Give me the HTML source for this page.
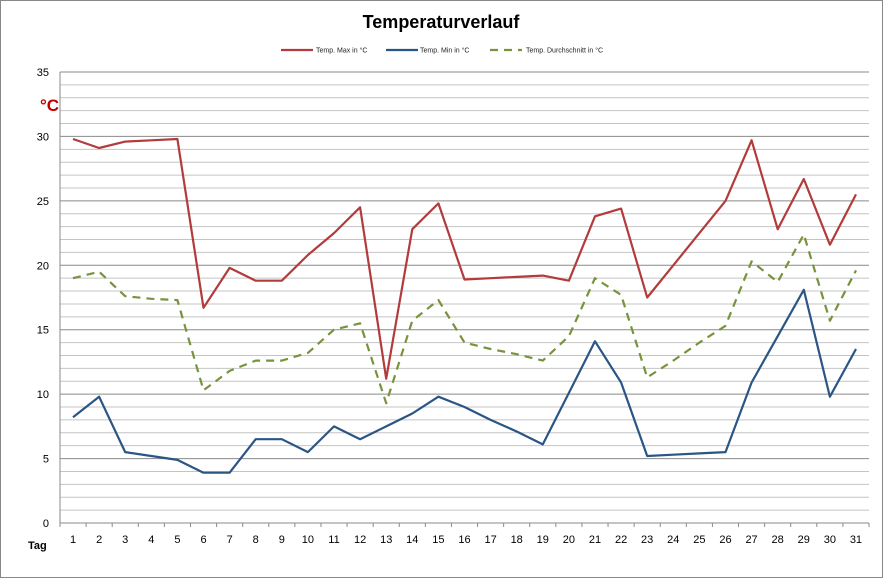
<!DOCTYPE html>
<html><head><meta charset="utf-8"><style>
body{margin:0;background:#fff}
svg{display:block;font-family:"Liberation Sans",Calibri,sans-serif}
</style></head><body>
<svg id="c" width="883" height="578" xmlns="http://www.w3.org/2000/svg">
<rect x="0.5" y="0.5" width="882" height="577" fill="#fff" stroke="#888"/>
<text x="441" y="28" text-anchor="middle" font-size="18" font-weight="bold" fill="#000">Temperaturverlauf</text>
<g font-size="7" fill="#222">
<line x1="281" y1="50" x2="313" y2="50" stroke="#b23b3b" stroke-width="2.2"/>
<text x="316" y="52.5">Temp. Max in °C</text>
<line x1="386" y1="50" x2="418" y2="50" stroke="#2b5584" stroke-width="2.2"/>
<text x="420" y="52.5">Temp. Min in °C</text>
<line x1="490" y1="50" x2="522" y2="50" stroke="#77933c" stroke-width="2.2" stroke-dasharray="8,6"/>
<text x="526" y="52.5">Temp. Durchschnitt in °C</text>
</g>
<text x="40" y="111" font-size="17" font-weight="bold" fill="#c00000">°C</text>
<g id="g"></g>
<text x="28" y="549" font-size="11" font-weight="bold" fill="#000">Tag</text>
</svg>
<script>
const g=document.getElementById('g');const NS='http://www.w3.org/2000/svg';
const y0=523,u=451/35,x0=60,dx=809/31;
let h='';
for(let i=0;i<=35;i++){const y=y0-i*u;const major=i%5==0;
h+=`<line x1="${x0}" x2="869" y1="${y}" y2="${y}" stroke="${major?'#8a8a8a':'#c4c4c4'}" stroke-width="1"/>`;
if(major)h+=`<text x="49" y="${y+4}" font-size="11" text-anchor="end" fill="#000">${i}</text>`;}
h+=`<line x1="${x0}" x2="${x0}" y1="72" y2="${y0+4}" stroke="#8a8a8a"/>`;
for(let i=0;i<=31;i++){const x=x0+i*dx;h+=`<line x1="${x}" x2="${x}" y1="${y0}" y2="${y0+4}" stroke="#8a8a8a"/>`;}
for(let i=1;i<=31;i++){h+=`<text x="${x0+(i-0.5)*dx}" y="543" font-size="11" text-anchor="middle" fill="#000">${i}</text>`;}
const mx=[29.8,29.1,29.6,29.7,29.8,16.7,19.8,18.8,18.8,20.8,22.5,24.5,11.2,22.8,24.8,18.9,19.0,19.1,19.2,18.8,23.8,24.4,17.5,20.0,22.5,25.0,29.7,22.8,26.7,21.6,25.5];
const mn=[8.2,9.8,5.5,5.2,4.9,3.9,3.9,6.5,6.5,5.5,7.5,6.5,7.5,8.5,9.8,9.0,8.0,7.1,6.1,10.1,14.1,10.9,5.2,5.3,5.4,5.5,10.9,14.5,18.1,9.8,13.5];
const av=[19.0,19.5,17.6,17.4,17.3,10.3,11.8,12.6,12.6,13.2,15.0,15.5,9.3,15.7,17.3,14.0,13.5,13.1,12.6,14.5,19.0,17.7,11.3,12.6,14.0,15.3,20.3,18.7,22.4,15.7,19.6];
function pl(d,c,da){return `<polyline fill="none" stroke="${c}" stroke-width="2.2" stroke-linejoin="round" ${da?'stroke-dasharray="8,6"':''} points="${d.map((v,i)=>(x0+(i+0.5)*dx).toFixed(1)+','+(y0-v*u).toFixed(1)).join(' ')}"/>`;}
h+=pl(av,'#77933c',1)+pl(mn,'#2b5584')+pl(mx,'#b23b3b');
g.innerHTML=h;
</script>
</body></html>
